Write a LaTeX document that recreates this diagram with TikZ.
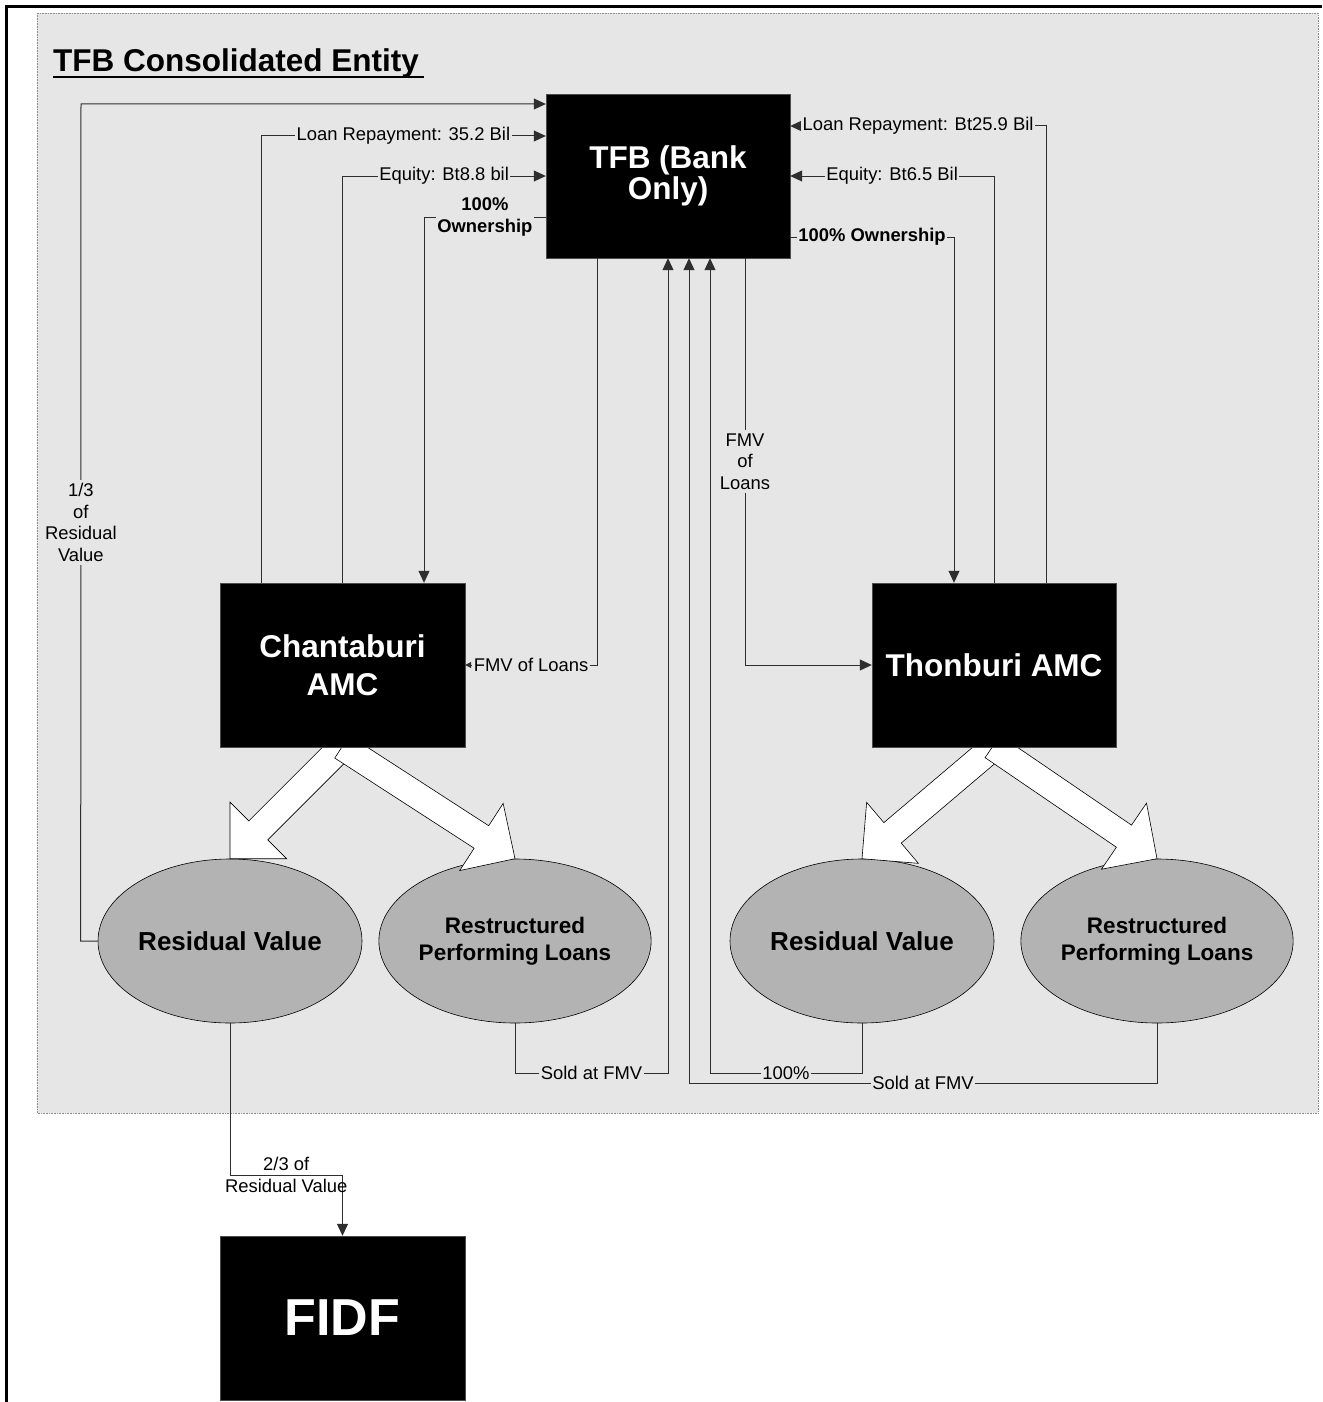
\documentclass[tikz,border=0pt]{standalone}
\usepackage{fontspec}
\setmainfont{Liberation Sans}
\usetikzlibrary{arrows.meta,positioning,shapes.geometric}
\definecolor{panelGrey}{HTML}{E6E6E6}
\definecolor{poolGrey}{HTML}{B3B3B3}
\definecolor{lineGrey}{HTML}{2E2E2E}
\newcommand{\lblfont}{\fontsize{18.4}{21.7}\selectfont}
\tikzstyle{boxK} = [rectangle, fill=black, draw=black!70, minimum width=245pt, minimum height=164pt, inner sep=0pt, text=white, align=center]
\tikzstyle{poolNode} = [ellipse, fill=poolGrey, draw=black, line width=0.6pt, minimum width=264pt, minimum height=164pt, inner sep=0pt, align=center]
\tikzstyle{lbl} = [fill=panelGrey, inner xsep=1.5pt, inner ysep=3pt, font=\lblfont, align=center]
\tikzstyle{lblB} = [lbl, font=\lblfont\bfseries]
\tikzstyle{arrowK} = [draw=lineGrey, line width=1pt, -{Triangle[length=12pt,width=11pt]}]
\tikzstyle{arrowS} = [arrowK, -{Triangle[length=6pt,width=6pt]}]
\tikzstyle{fatArrow} = [fill=white, draw=black, line width=0.6pt]
% block arrow: tip, direction, length
\newcommand{\fatarrow}[3]{%
  \begin{scope}[shift={(#1)}, rotate=#2]
    \filldraw[fatArrow] (0pt,0pt) -- (-40pt,40pt) -- (-40pt,13.4pt) -- (-#3pt,13.4pt)
      -- (-#3pt,-13.4pt) -- (-40pt,-13.4pt) -- (-40pt,-40pt) -- cycle;
  \end{scope}}

\begin{document}
\begin{tikzpicture}[x=1pt, y=-1pt]
\useasboundingbox (0,0) rectangle (1322,1402);
% consolidated entity panel and frame
\path[fill=panelGrey, draw=black!45, densely dotted, line width=0.6pt] (37,13) rectangle (1318,1113);
\draw[line width=3pt] (6.5,1402) -- (6.5,7) -- (1322,7);
\node (title) [anchor=base west, inner sep=0pt, font=\fontsize{31.5}{36}\selectfont\bfseries] at (53,72) {TFB Consolidated Entity};
\draw[line width=2.5pt] ([yshift=-5pt]title.base west) -- ([yshift=-5pt,xshift=5pt]title.base east);

% pools
\node (resL) [poolNode, font=\fontsize{26}{30}\selectfont\bfseries] at (230,941) {Residual Value};
\node (rpL) [poolNode, font=\fontsize{22.5}{27}\selectfont\bfseries] at (515,941) {Restructured\\Performing Loans};
\node (resR) [poolNode, font=\fontsize{26}{30}\selectfont\bfseries] at (862,941) {Residual Value};
\node (rpR) [poolNode, font=\fontsize{22.5}{27}\selectfont\bfseries] at (1157,941) {Restructured\\Performing Loans};

\fatarrow{resL.north}{225}{158}
\fatarrow{rpL.north}{-32.9}{206}
\fatarrow{resR.north}{220.3}{173}
\fatarrow{rpR.north}{-34.3}{199}

% entities
\node (tfb) [boxK, minimum width=244pt, font=\fontsize{31.5}{31}\selectfont\bfseries] at (668,176) {TFB (Bank\\Only)};
\node (chan) [boxK, font=\fontsize{31.5}{38}\selectfont\bfseries] at (342.5,665) {Chantaburi\\AMC};
\node (thon) [boxK, minimum width=244pt, font=\fontsize{31.5}{38}\selectfont\bfseries] at (994,665) {Thonburi AMC};
\node (fidf) [boxK, font=\fontsize{52}{60}\selectfont\bfseries] at (342.5,1318) {FIDF};

% flows
\draw [arrowK] (resL.west) -- ++(-17,0) -- node[lbl] {1/3\\of\\Residual\\Value} (81,104) -- (tfb.west |- 0,104);
\draw [arrowK] ([xshift=-81.5pt]chan.north) |- node[lbl, pos=0.75] {Loan Repayment: 35.2 Bil} (tfb.west |- 0,136);
\draw [arrowK] (chan.north) |- node[lbl, pos=0.75] {Equity: Bt8.8 bil} (tfb.west);
\draw [arrowK] (tfb.west |- 0,217) -| node[lblB, pos=0.25, inner ysep=1pt] {100\%\\Ownership} ([xshift=81.5pt]chan.north);
\draw [arrowS] (tfb.south -| 597,0) |- node[lbl, pos=0.75] {FMV of Loans} (chan.east);
\draw [arrowK] (rpL.south) |- node[lbl, pos=0.75] {Sold at FMV} (668,1073) -- (tfb.south -| 668,0);
\draw [arrowK] (resR.south) |- node[lbl, pos=0.75] {100\%} (710,1073) -- (tfb.south -| 710,0);
\draw [arrowK] (rpR.south) |- node[lbl, pos=0.75] {Sold at FMV} (689,1083) -- (tfb.south -| 689,0);
\draw [arrowK] (tfb.south -| 745,0) -- node[lbl] {FMV\\of\\Loans} (745,665) -- (thon.west);
\draw [arrowK] (tfb.east |- 0,237) -| node[lblB, pos=0.25] {100\% Ownership} ([xshift=-40pt]thon.north);
\draw [arrowK] (thon.north) |- node[lbl, pos=0.75] {Equity: Bt6.5 Bil} (tfb.east);
\draw [arrowK] ([xshift=52pt]thon.north) |- node[lbl, pos=0.75] {Loan Repayment: Bt25.9 Bil} (tfb.east |- 0,126);
\draw [arrowK] (resL.south) |- node[font=\lblfont, align=center, pos=0.75] {2/3 of\\Residual Value} (fidf.north |- 0,1175) -- (fidf.north);
\end{tikzpicture}
\end{document}
